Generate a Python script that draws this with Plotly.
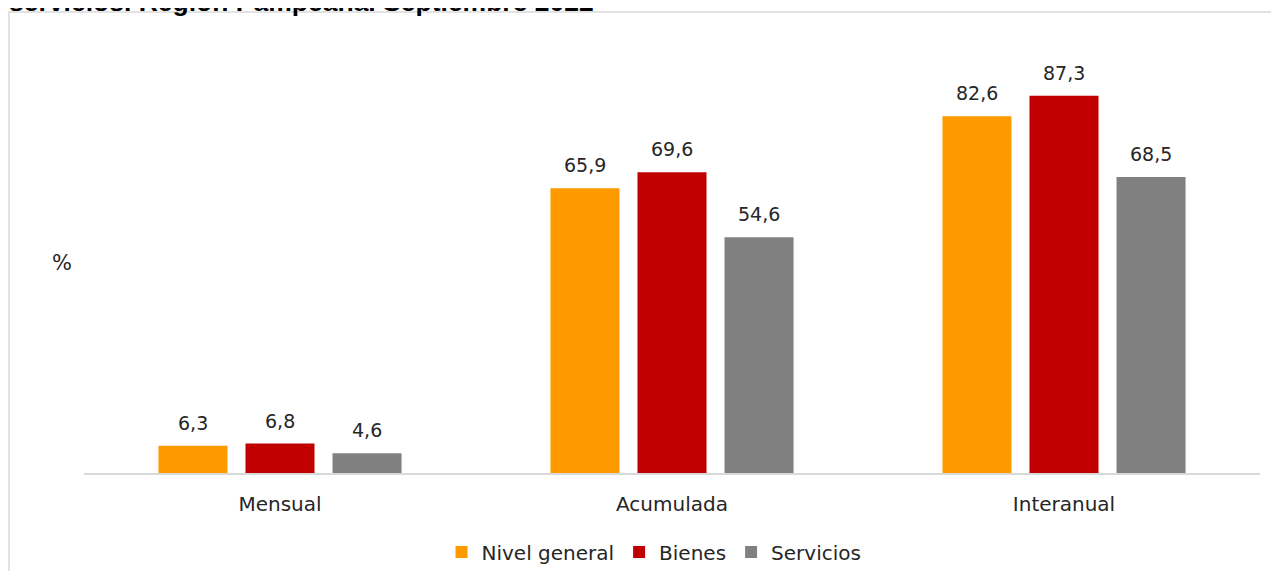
import plotly.graph_objects as go

categories = ["Mensual", "Acumulada", "Interanual"]
nivel_general = [6.3, 65.9, 82.6]
bienes = [6.8, 69.6, 87.3]
servicios = [4.6, 54.6, 68.5]
series_names = ["Nivel general", "Bienes", "Servicios"]
colors = ["#FF9900", "#C00000", "#808080"]
title_text = "servicios. Región Pampeana. Septiembre 2022"

FONT = "DejaVu Sans, sans-serif"
TXT = "#262626"

BARGAP = 0.334
BARGROUPGAP = 0.207

fig = go.Figure()
all_series = [nivel_general, bienes, servicios]
for name, vals, col in zip(series_names, all_series, colors):
    fig.add_trace(go.Bar(
        x=categories, y=vals, name=name,
        marker=dict(color=col, line=dict(width=0)),
        cliponaxis=False,
    ))

# page body has an 8px margin, so the figure is sized to fit inside the window
OFF = 8
W, H = 1279 - 2 * OFF, 579 - 2 * OFF
ml, mt = 84 - OFF, 41 - OFF
mr = W - (1260 - OFF)
mb = H - (473 - OFF)
pw, ph = W - ml - mr, H - mt - mb


def px(x):  # window pixel -> paper
    return (x - OFF - ml) / pw


def py(y):  # window pixel -> paper
    return (H - mb - (y - OFF)) / ph


def cy(y):  # window pixel -> container fraction
    return (H - (y - OFF)) / H


slot_px = pw / len(categories) * (1 - BARGAP) / len(series_names)

annotations = []
for i, vals in enumerate(all_series):
    for cat, v in zip(categories, vals):
        annotations.append(dict(
            x=cat, y=v, xref="x", yref="y", text=f"{v:.1f}".replace(".", ","),
            showarrow=False, xanchor="center", yanchor="middle",
            xshift=(i - 1) * slot_px, yshift=23,
            font=dict(size=19, color=TXT, family=FONT),
        ))

annotations += [
    dict(text="%", xref="paper", yref="paper", x=px(62), y=py(263), showarrow=False,
         xanchor="center", yanchor="middle", font=dict(size=21, color=TXT, family=FONT)),
    dict(text="<b>" + title_text + "</b>", xref="paper", yref="paper", x=px(7), y=py(1.5),
         xanchor="left", yanchor="middle", showarrow=False,
         font=dict(size=26.5, color="#000000", family="Liberation Sans, Arial, sans-serif")),
]

fig.update_layout(
    width=W, height=H,
    margin=dict(l=ml, r=mr, t=mt, b=mb, autoexpand=False),
    paper_bgcolor="white", plot_bgcolor="white",
    separators=",.",
    barmode="group", bargap=BARGAP, bargroupgap=BARGROUPGAP,
    font=dict(family=FONT, color=TXT, size=19),
    showlegend=True,
    legend=dict(orientation="h", x=px(654), xanchor="center",
                yref="container", y=cy(552), yanchor="middle",
                font=dict(size=20, color=TXT, family=FONT), itemwidth=30,
                traceorder="normal", tracegroupgap=0),
    xaxis=dict(showline=True, linecolor="#D9D9D9", linewidth=1.5, ticks="",
               tickfont=dict(size=20, color=TXT, family=FONT), showgrid=False,
               ticklabelstandoff=12, automargin=False),
    yaxis=dict(range=[0, 100], visible=False, showgrid=False, zeroline=False),
    shapes=[dict(type="rect", xref="paper", yref="paper",
                 x0=px(9), x1=px(1500), y0=py(800), y1=py(12),
                 line=dict(color="#D9D9D9", width=1.5), fillcolor="rgba(0,0,0,0)", layer="below")],
    annotations=annotations,
)

fig.write_html("out.html")
